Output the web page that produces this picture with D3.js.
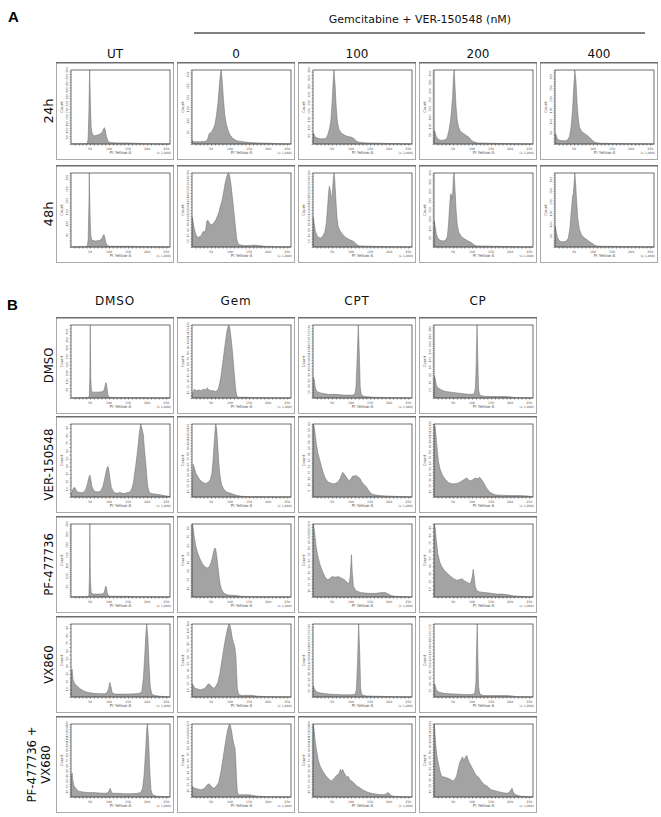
<!DOCTYPE html>
<html><head><meta charset="utf-8">
<script src="https://cdn.jsdelivr.net/npm/d3@7"></script>
<style>body{margin:0;background:#fff}svg{display:block}</style>
</head><body>
<script>
// ---------------- DATA ----------------
const panelATitle = "Gemcitabine + VER-150548 (nM)";
const panelAColumns = ["UT", "0", "100", "200", "400"];
const panelARows = ["24h", "48h"];
const panelBColumns = ["DMSO", "Gem", "CPT", "CP"];
const panelBRows = [["DMSO"], ["VER-150548"], ["PF-477736"], ["VX860"], ["PF-477736 +", "VX680"]];
const xTickLabels = [50, 100, 150, 200, 250];
const xAxisLabel = "PI Yellow-A";
const xUnitLabel = "(x 1,000)";
const yAxisLabel = "Count";

// histogram outlines: [PI Yellow-A (x1000), % of panel max count]
const A_UT_24h = [[0,0],[38,0.5],[43,1],[45,8],[47,45],[49,100],[51,55],[53,22],[56,13],[62,11],[70,12],[78,14],[83,17],[86,21],[88,22],[90,19],[93,10],[97,4],[102,2],[120,1.5],[150,1.5],[170,1],[200,0.5],[262,0]];
const A_0_24h = [[0,0],[1,5],[3,3],[10,3],[20,3],[30,3.5],[38,4],[42,8],[45,14],[48,15],[52,17],[56,21],[60,26],[64,38],[68,55],[72,80],[75,97],[77,100],[80,80],[83,58],[86,40],[90,27],[95,18],[100,12],[106,8],[112,6],[120,4],[135,3],[150,2],[170,1.5],[200,1],[230,0.5],[262,0]];
const A_100_24h = [[0,0],[1,15],[3,13],[6,9],[12,8],[20,7],[30,7],[35,8],[39,13],[43,20],[47,32],[50,55],[53,85],[55,100],[58,80],[61,50],[64,30],[68,20],[74,15],[82,12],[92,10],[102,9],[108,7],[114,4],[120,2.5],[140,1.5],[180,1],[262,0]];
const A_200_24h = [[0,0],[1,18],[3,16],[6,10],[10,7],[16,5],[24,5],[30,6],[35,9],[39,18],[43,30],[46,45],[49,65],[51,90],[53,100],[55,80],[58,50],[61,32],[65,22],[70,17],[78,14],[86,11],[92,9],[98,5],[104,3],[115,1.5],[150,1],[200,0.5],[262,0]];
const A_400_24h = [[0,0],[1,14],[3,12],[6,7],[12,5],[20,4.5],[28,4.5],[34,6],[38,10],[42,22],[46,45],[49,75],[52,100],[55,85],[58,55],[61,35],[64,23],[70,17],[78,14],[86,11],[94,7],[100,4],[106,2],[120,1],[180,0.5],[262,0]];
const A_UT_48h = [[0,0],[38,0.5],[43,1.5],[45,10],[47,55],[48,100],[50,45],[52,15],[55,9],[65,8],[75,9],[81,11],[84,15],[86,17],[88,15],[91,7],[95,2],[102,1],[150,1],[200,0.5],[262,0]];
const A_0_48h = [[0,0],[1,40],[3,33],[6,25],[10,17],[15,13],[20,14],[25,16],[29,21],[33,20],[36,24],[39,35],[42,36],[45,33],[49,30],[54,31],[58,33],[63,37],[67,42],[71,48],[75,56],[79,63],[83,74],[87,86],[91,95],[94,99],[96,100],[99,96],[102,86],[105,72],[108,58],[111,43],[114,28],[117,13],[120,6],[124,3],[135,2],[150,2],[165,2.5],[175,2],[190,1],[220,0.5],[262,0]];
const A_100_48h = [[0,0],[1,40],[3,32],[6,22],[10,16],[15,13],[20,12],[26,15],[31,20],[35,32],[38,52],[41,74],[43,82],[45,78],[48,67],[50,68],[53,90],[55,100],[57,92],[60,65],[63,40],[66,28],[71,22],[78,17],[86,13],[96,10],[104,8],[110,6],[116,3],[122,1.5],[150,1],[200,0.5],[262,0]];
const A_200_48h = [[0,0],[1,35],[3,28],[6,18],[10,12],[16,9],[24,8],[30,9],[35,14],[38,30],[41,55],[43,70],[45,72],[47,65],[49,72],[51,95],[53,100],[55,80],[58,50],[61,30],[65,20],[72,14],[80,11],[90,8],[98,6],[105,3],[112,1.5],[150,1],[262,0]];
const A_400_48h = [[0,0],[1,28],[3,22],[6,14],[10,9],[16,7],[24,7],[30,8],[35,12],[39,25],[43,50],[46,68],[48,72],[50,85],[52,100],[54,88],[57,60],[60,38],[64,24],[70,16],[78,12],[86,9],[94,6],[100,4],[106,2],[115,1],[200,0.5],[262,0]];

const B_DMSO_DMSO = [[0,0],[44,0.5],[48,2],[49.5,30],[50.5,100],[52,25],[54,9],[58,8],[70,8],[80,8.5],[86,10],[89,15],[91,21],[93,20],[95,12],[97,4],[100,1],[120,0.5],[180,0.3],[262,0]];
const B_Gem_DMSO = [[0,0],[2,8],[6,12],[12,10],[18,11],[24,10],[30,12],[36,11],[40,14],[44,11],[50,10],[56,10],[62,9],[68,11],[72,18],[76,30],[80,45],[84,62],[88,78],[92,92],[96,100],[99,97],[102,85],[106,65],[110,40],[114,15],[117,4],[120,1],[140,1],[160,0.5],[262,0]];
const B_CPT_DMSO = [[0,0],[1,28],[3,26],[6,14],[10,9],[20,7],[40,5],[60,5],[80,4],[95,4],[105,4],[110,6],[113,15],[116,55],[119,100],[122,55],[124,15],[127,4],[135,2],[160,1],[200,0.5],[262,0]];
const B_CP_DMSO = [[0,0],[1,30],[3,27],[6,18],[10,14],[20,11],[30,9],[45,8],[60,7],[75,6],[90,5],[100,5],[106,6],[109,15],[111,50],[113,100],[115,55],[117,12],[120,4],[130,2.5],[150,2],[170,2],[190,2],[200,1.5],[210,0.8],[262,0]];

const B_DMSO_VER = [[0,0],[2,6],[6,12],[10,13],[14,9],[17,7],[24,6],[30,6],[36,8],[40,12],[44,20],[47,27],[50,30],[52,24],[55,14],[61,8],[70,7],[78,8],[84,15],[88,24],[91,32],[94,39],[97,42],[100,35],[103,22],[106,13],[112,7],[119,5],[128,6],[135,5],[141,5],[148,6],[155,7],[160,12],[164,20],[167,32],[170,43],[174,60],[177,75],[180,90],[183,100],[186,95],[190,85],[193,65],[197,43],[200,22],[202,13],[205,8],[208,5],[220,4],[235,3],[244,2],[257,1],[262,0]];
const B_Gem_VER = [[0,0],[1,15],[3,45],[6,40],[10,33],[15,28],[20,24],[26,21],[32,19],[38,19],[44,21],[48,24],[52,32],[55,48],[58,72],[61,95],[62.5,100],[65,92],[67,75],[70,50],[73,32],[77,18],[82,12],[88,8],[95,6],[102,5],[110,3.5],[120,2],[130,1],[150,0.5],[262,0]];
const B_CPT_VER = [[0,0],[1,100],[3,97],[6,85],[9,72],[13,60],[17,52],[22,42],[27,33],[32,26],[37,22],[42,20],[48,19],[54,18],[60,19],[66,21],[71,25],[75,30],[78,34],[81,32],[85,29],[89,26],[93,23],[97,23],[101,26],[105,29],[109,28],[112,30],[116,28],[120,27],[124,25],[128,21],[132,18],[136,16],[140,14],[145,10],[150,6],[155,4],[162,3],[175,2],[190,1.5],[210,1],[240,0.5],[262,0]];
const B_CP_VER = [[0,0],[1,100],[3,96],[6,80],[9,62],[12,48],[16,38],[22,30],[30,24],[38,20],[46,18],[54,18],[62,19],[70,21],[76,23],[82,25],[86,26],[90,24],[95,22],[100,23],[105,25],[110,26],[115,25],[120,27],[125,24],[130,20],[135,15],[140,11],[146,7],[152,5],[160,3],[175,2.5],[200,2],[225,2],[245,1.5],[262,0]];

const B_DMSO_PF = [[0,0],[44,0.5],[47,2],[48.5,30],[49.5,100],[51,25],[53,6],[58,4],[70,4],[80,4],[86,5],[89,10],[91,15],[93,13],[95,6],[98,2],[102,1],[140,1],[170,0.5],[262,0]];
const B_Gem_PF = [[0,0],[1,100],[3,95],[6,82],[10,70],[14,62],[18,56],[23,50],[28,45],[33,42],[38,40],[42,40],[46,42],[50,47],[54,55],[57,63],[60,67],[62,66],[65,56],[68,42],[71,28],[74,17],[78,10],[84,5],[92,3],[100,2.5],[115,2],[130,1],[150,0.5],[262,0]];
const B_CPT_PF = [[0,0],[1,100],[4,90],[8,70],[12,58],[18,45],[25,35],[32,27],[38,24],[44,25],[50,28],[58,27],[66,28],[74,26],[82,24],[90,20],[95,18],[98,30],[101,58],[103,35],[106,15],[112,9],[125,6],[145,5],[165,5],[180,6],[190,6],[198,4],[205,2],[215,1],[262,0]];
const B_CP_PF = [[0,0],[1,100],[3,95],[6,78],[10,60],[15,48],[20,42],[28,36],[36,32],[44,28],[52,25],[60,23],[68,24],[74,25],[80,22],[88,20],[94,18],[98,22],[101,30],[103,38],[105,30],[108,15],[112,9],[120,7],[135,6],[150,5],[165,4],[180,4],[195,3],[210,1.5],[225,1],[262,0]];

const B_DMSO_VX = [[0,0],[1,35],[3,38],[5,25],[8,20],[12,17],[18,14],[25,11],[35,8],[45,6],[60,5],[75,4.5],[88,4.5],[95,6],[99,12],[102,20],[105,14],[108,6],[115,4],[130,4],[150,4],[170,4.5],[180,5],[186,8],[190,25],[194,60],[197,90],[199,100],[202,80],[205,45],[208,15],[212,4],[220,2],[235,1],[262,0]];
const B_Gem_VX = [[0,0],[1,18],[3,16],[8,12],[15,11],[22,10],[30,11],[36,13],[41,17],[45,18],[49,16],[53,13],[58,12],[63,15],[68,20],[73,32],[78,48],[83,65],[88,80],[93,93],[97,100],[100,98],[103,90],[106,80],[109,74],[112,70],[115,58],[117,35],[119,12],[122,4],[130,2],[145,2.5],[160,2],[175,1],[200,0.5],[262,0]];
const B_CPT_VX = [[0,0],[1,15],[3,12],[7,8],[15,6],[25,5],[40,4],[60,3.5],[80,3],[100,3],[110,3.5],[114,10],[117,50],[120,100],[123,55],[125,12],[128,3],[140,1.5],[170,1],[210,0.5],[262,0]];
const B_CP_VX = [[0,0],[1,18],[3,16],[6,10],[12,7],[25,5],[40,4.5],[60,4],[80,3.5],[100,3.5],[107,5],[110,20],[112,70],[113.5,100],[115,60],[117,15],[120,4],[130,2],[160,2],[190,2],[205,1.5],[215,0.5],[262,0]];

const B_DMSO_PFVX = [[0,0],[1,30],[3,33],[5,22],[8,15],[14,11],[20,8],[30,7],[45,6],[60,6],[75,5.5],[90,5],[98,6],[101,10],[103,12],[106,7],[110,5],[125,5],[140,4.5],[160,4.5],[175,5],[183,6],[188,12],[192,30],[196,65],[199,95],[201,100],[204,75],[207,35],[210,10],[214,3],[225,1],[262,0]];
const B_Gem_PFVX = [[0,0],[1,15],[3,13],[8,12],[15,11],[22,10],[30,11],[36,14],[41,17],[45,18],[49,16],[53,13],[58,12],[64,15],[70,20],[75,32],[80,48],[85,65],[90,82],[94,93],[98,100],[101,98],[104,90],[107,80],[110,72],[113,67],[115,50],[117,25],[119,8],[122,3],[135,3],[150,3],[160,2],[175,1],[200,0.5],[262,0]];
const B_CPT_PFVX = [[0,0],[1,100],[3,92],[6,75],[10,62],[14,50],[19,42],[25,36],[31,31],[37,27],[43,24],[48,22],[53,24],[58,27],[63,30],[68,32],[72,38],[75,34],[78,38],[81,34],[85,30],[89,27],[93,28],[97,23],[102,22],[108,19],[115,15],[122,13],[130,10],[138,8],[146,6],[155,5],[165,4],[175,3.5],[185,3],[192,4],[196,6],[200,5],[205,2],[212,1],[230,0.5],[262,0]];
const B_CP_PFVX = [[0,0],[1,100],[4,75],[8,55],[12,45],[16,35],[20,28],[30,27],[40,25],[50,22],[56,25],[60,30],[64,40],[68,48],[72,52],[75,55],[78,50],[80,52],[83,55],[86,57],[89,52],[92,48],[96,44],[100,40],[105,35],[110,30],[115,28],[120,25],[125,21],[130,18],[135,16],[140,15],[145,12],[150,10],[158,9],[165,8],[172,7],[180,6],[190,5],[198,6],[202,10],[205,12],[208,7],[212,4],[220,2],[230,1],[262,0]];

const histA = [
  [A_UT_24h, A_0_24h, A_100_24h, A_200_24h, A_400_24h],
  [A_UT_48h, A_0_48h, A_100_48h, A_200_48h, A_400_48h]
];
const countMaxA = [[550, 320, 450, 420, 330], [320, 260, 260, 400, 330]];
const histB = [
  [B_DMSO_DMSO, B_Gem_DMSO, B_CPT_DMSO, B_CP_DMSO],
  [B_DMSO_VER, B_Gem_VER, B_CPT_VER, B_CP_VER],
  [B_DMSO_PF, B_Gem_PF, B_CPT_PF, B_CP_PF],
  [B_DMSO_VX, B_Gem_VX, B_CPT_VX, B_CP_VX],
  [B_DMSO_PFVX, B_Gem_PFVX, B_CPT_PFVX, B_CP_PFVX]
];
const countMaxB = [[440, 130, 250, 190], [95, 135, 60, 130], [350, 85, 120, 95], [95, 110, 250, 230], [140, 120, 140, 130]];

// ---------------- LAYOUT ----------------
const W = 661, H = 817;
const FONT = "'DejaVu Sans', Verdana, sans-serif";
const colX = [56, 177, 298, 419, 540];
const panelW = 118;
const rowYA = [62, 165], panelHA = 98;
const rowYB = [317, 416, 516, 616, 716], panelHB = 97;
const M = {l: 15, r: 4, t: 8, b: 16};

const svg = d3.select("body").append("svg")
  .attr("width", W).attr("height", H)
  .style("font-family", FONT);

function drawPanel(x0, y0, w, h, hist, countMax) {
  const g = svg.append("g").attr("transform", `translate(${x0},${y0})`);
  g.append("rect").attr("x", 0.5).attr("y", 0.5).attr("width", w - 1).attr("height", h - 1)
    .attr("fill", "#fff").attr("stroke", "#a9a9a9").attr("stroke-width", 1);
  g.append("line").attr("x1", 0).attr("x2", w).attr("y1", 0.75).attr("y2", 0.75)
    .attr("stroke", "#6e6e6e").attr("stroke-width", 1.5);

  const ix0 = M.l, ix1 = w - M.r, iy0 = M.t, iy1 = h - M.b;
  const x = d3.scaleLinear().domain([0, 260]).range([ix0, ix1]);
  const y = d3.scaleLinear().domain([0, countMax]).range([iy1, iy0]);
  const pts = hist.map(d => [Math.min(d[0], 260), d[1] * countMax / 100]);

  const area = d3.area().x(d => x(d[0])).y0(iy1).y1(d => y(d[1]));
  g.append("path").datum(pts).attr("d", area)
    .attr("fill", "#a3a3a3").attr("stroke", "#6a6a6a").attr("stroke-width", 0.5)
    .attr("stroke-linejoin", "round");

  g.append("rect").attr("x", ix0).attr("y", iy0).attr("width", ix1 - ix0).attr("height", iy1 - iy0)
    .attr("fill", "none").attr("stroke", "#4a4a4a").attr("stroke-width", 0.8);

  // x axis
  const minor = d3.range(10, 260, 10);
  const xa = g.append("g").attr("transform", `translate(0,${iy1})`)
    .call(d3.axisBottom(x).tickValues(minor).tickSize(1.6).tickFormat(""));
  xa.select(".domain").remove();
  xa.selectAll("line").attr("stroke", "#444").attr("stroke-width", 0.6);
  g.selectAll(".xl").data(xTickLabels).join("text")
    .attr("x", d => x(d)).attr("y", iy1 + 5.5).attr("text-anchor", "middle")
    .attr("font-size", 3.2).attr("fill", "#555").text(d => d);
  g.append("text").attr("x", ix1 + 1).attr("y", iy1 + 10).attr("text-anchor", "end")
    .attr("font-size", 3.2).attr("fill", "#555").text(xUnitLabel);
  g.append("text").attr("x", (ix0 + ix1) / 2).attr("y", iy1 + 10).attr("text-anchor", "middle")
    .attr("font-size", 4).attr("fill", "#555").text(xAxisLabel);

  // y axis
  const ticks = y.ticks(10).filter(t => t > 0);
  const ya = g.append("g").attr("transform", `translate(${ix0},0)`)
    .call(d3.axisLeft(y).ticks(30).tickSize(1.4).tickFormat(""));
  ya.select(".domain").remove();
  ya.selectAll("line").attr("stroke", "#444").attr("stroke-width", 0.5);
  g.selectAll(".yl").data(ticks).join("text")
    .attr("transform", t => `translate(${ix0 - 3},${y(t)}) rotate(-90)`)
    .attr("text-anchor", "middle").attr("font-size", 3).attr("fill", "#555").text(t => t);
  g.append("text").attr("transform", `translate(${ix0 - 8},${(iy0 + iy1) / 2}) rotate(-90)`)
    .attr("text-anchor", "middle").attr("font-size", 3.8).attr("fill", "#555").text(yAxisLabel);
}

// ---------- Panel A ----------
svg.append("text").attr("x", 8).attr("y", 22).attr("font-size", 15).attr("font-weight", "bold")
  .attr("font-family", "'Liberation Sans', Arial, sans-serif").text("A");
svg.append("text").attr("x", 420).attr("y", 23).attr("text-anchor", "middle")
  .attr("font-size", 11).attr("fill", "#111").text(panelATitle);
svg.append("line").attr("x1", 194).attr("x2", 645).attr("y1", 33).attr("y2", 33)
  .attr("stroke", "#000").attr("stroke-width", 1);
panelAColumns.forEach((c, i) => {
  svg.append("text").attr("x", colX[i] + panelW / 2).attr("y", 58).attr("text-anchor", "middle")
    .attr("font-size", 12).attr("fill", "#111").text(c);
});
panelARows.forEach((r, j) => {
  const cy = rowYA[j] + panelHA / 2;
  svg.append("text").attr("transform", `translate(53,${cy}) rotate(-90)`).attr("text-anchor", "middle")
    .attr("font-size", 13).attr("fill", "#111").text(r);
  histA[j].forEach((hst, i) => drawPanel(colX[i], rowYA[j], panelW, panelHA, hst, countMaxA[j][i]));
});

// ---------- Panel B ----------
svg.append("text").attr("x", 7).attr("y", 310).attr("font-size", 15).attr("font-weight", "bold")
  .attr("font-family", "'Liberation Sans', Arial, sans-serif").text("B");
panelBColumns.forEach((c, i) => {
  svg.append("text").attr("x", colX[i] + panelW / 2).attr("y", 305).attr("text-anchor", "middle")
    .attr("font-size", 12).attr("letter-spacing", 0.8).attr("fill", "#111").text(c);
});
panelBRows.forEach((lines, j) => {
  const cy = rowYB[j] + panelHB / 2;
  lines.forEach((ln, k) => {
    const lx = (lines.length > 1 ? 50 : 53) - (lines.length - 1 - k) * 14;
    svg.append("text").attr("transform", `translate(${lx},${cy}) rotate(-90) scale(0.9,1)`)
      .attr("text-anchor", "middle")
      .attr("font-size", 13).attr("fill", "#111").text(ln);
  });
  histB[j].forEach((hst, i) => drawPanel(colX[i], rowYB[j], panelW, panelHB, hst, countMaxB[j][i]));
});
</script>
</body></html>
